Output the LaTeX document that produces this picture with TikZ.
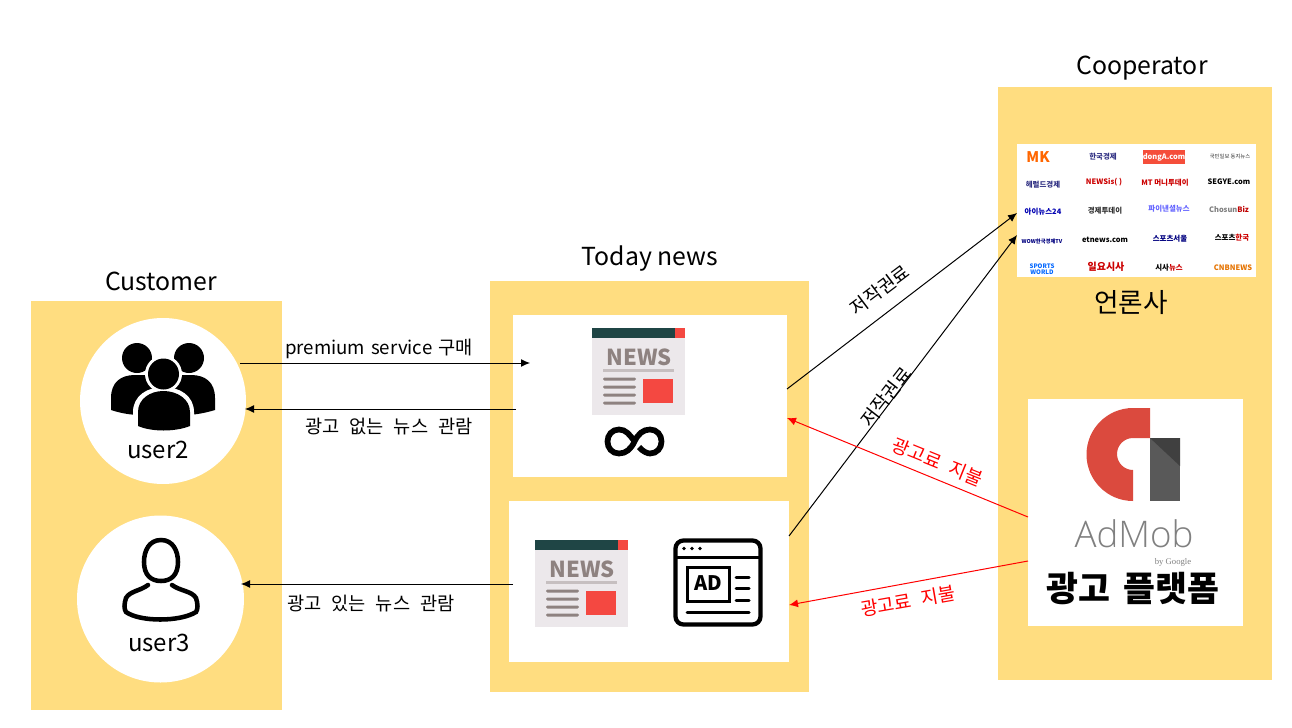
\documentclass[tikz,border=0pt]{standalone}
\usepackage{fontspec}
\setmainfont{Noto Sans CJK KR}
\newfontfamily\latinlight{Open Sans Light}
\newfontfamily\logoserif{Liberation Serif}
\usetikzlibrary{arrows.meta,calc}
\definecolor{panel}{HTML}{FFDD80}
\definecolor{teal}{HTML}{1F4545}
\definecolor{nred}{HTML}{F44841}
\definecolor{paper}{HTML}{ECE8EB}
\definecolor{ink}{HTML}{8E8280}
\definecolor{admobred}{HTML}{DB4A3E}
\newcommand{\widegap}{\spaceskip=7.5pt\relax}
\newcommand{\biggap}{\spaceskip=10pt\relax}
\newcommand{\smallgap}{\spaceskip=4.5pt\relax}
\tikzset{
  x=0.75pt,y=-0.75pt,
  panelbox/.style={fill=panel,draw=none,inner sep=0pt,outer sep=0pt},
  whitebox/.style={fill=white,draw=none,inner sep=0pt,outer sep=0pt},
  usercirc/.style={circle,fill=white,draw=none,inner sep=0pt,outer sep=0pt,minimum size=#1*0.75pt},
  link/.style={draw=black,line width=0.75pt,-{Latex[length=6.75pt,width=6pt]}},
  paylink/.style={draw=red,line width=0.75pt,-{Latex[length=6.75pt,width=6pt]}},
  title/.style={font=\fontsize{18.6}{20}\selectfont,inner sep=0pt},
  lbl/.style={font=\fontsize{14}{16}\selectfont\widegap,inner sep=0pt},
  rlbl/.style={font=\fontsize{14}{16}\selectfont\widegap,inner sep=0pt,text=red},
  logo/.style={inner sep=0pt,font=\fontsize{5.6}{6}\selectfont\bfseries},
  newsicon/.pic={
    \fill[paper] (0,0) rectangle (93,87);
    \fill[teal] (0,0) rectangle (83,10);
    \fill[nred] (83,0) rectangle (93,10);
    \node[inner sep=0pt,text=ink,font=\fontsize{16.5}{18}\selectfont\bfseries] at (47,29) {NEWS};
    \fill[ink!40!paper] (11,41) rectangle (82,44);
    \foreach \yy in {51,59,67,75} \fill[ink,rounded corners=1pt] (11,\yy-1.5) rectangle (44,\yy+1.5);
    \fill[nred] (51,51) rectangle (81,75);
  }
}
\begin{document}
\begin{tikzpicture}
\useasboundingbox (0,0) rectangle (1292,728);
\fill[white] (0,0) rectangle (1292,728);
% panels
\node[panelbox,minimum width=188.25pt,minimum height=306.75pt] (pcust) at (156.5,505.5) {};
\node[panelbox,minimum width=239.25pt,minimum height=308.25pt] (pnews) at (649.5,486.5) {};
\node[panelbox,minimum width=205.5pt,minimum height=444.75pt] (pcoop) at (1135,383.5) {};
\node[title] (tcust) at (161,281) {Customer};
\node[title] (tnews) at (650,259) {Today news};
\node[title] (tcoop) at (1142,68) {Cooperator};
% white boxes
\node[whitebox,minimum width=205.5pt,minimum height=121.5pt] (box1) at (650,396) {};
\node[whitebox,minimum width=210pt,minimum height=120.75pt] (box2) at (649,581.5) {};
\node[whitebox,minimum width=179.25pt,minimum height=99.75pt] (press) at (1136.5,210.5) {};
\node[whitebox,minimum width=161.25pt,minimum height=170.25pt] (admob) at (1135.5,512.5) {};
\node[usercirc=166] (user2) at (163,401) {};
\node[usercirc=167] (user3) at (160.5,599) {};
% user2 icon
\fill[black] (137,358) circle (15);
\fill[black] (189,358) circle (15);
\fill[black] (111,410) -- (111,398) .. controls (111,382) and (121,375) .. (135,375) -- (191,375) .. controls (205,375) and (215,382) .. (215,398) -- (215,410) .. controls (205,413) and (195,415) .. (185,415) -- (141,415) .. controls (130,415) and (120,413) .. (111,410) -- cycle;
\fill[white] (163.5,374) circle (18.5);
\fill[white] (133,432) -- (133,412) .. controls (133,396) and (147,387) .. (163.5,387) .. controls (180,387) and (194,396) .. (194,412) -- (194,432) -- cycle;
\fill[black] (163.5,374) circle (15.5);
\fill[black] (138,426) -- (138,412) .. controls (138,399) and (150,391) .. (163.5,391) .. controls (177,391) and (190,399) .. (190,412) -- (190,426) .. controls (175,432) and (152,432) .. (138,426) -- cycle;
\node[inner sep=0pt,font=\fontsize{18}{20}\selectfont] (l2) at (158,450) {user2};
% user3 icon
\draw[black,line width=3.4pt] (161,540) .. controls (149,540) and (144,551) .. (144,562) .. controls (144,575) and (151,581) .. (161,581) .. controls (171,581) and (178,575) .. (178,562) .. controls (178,551) and (173,540) .. (161,540) -- cycle;
\draw[black,line width=3.4pt,line cap=round] (148,585) .. controls (140,591) and (130,591) .. (126,598) .. controls (124,604) and (124,609) .. (126,612) .. controls (140,622) and (180,622) .. (196,612) .. controls (198,609) and (198,604) .. (196,598) .. controls (192,591) and (180,591) .. (172,585);
\node[inner sep=0pt,font=\fontsize{18}{20}\selectfont] (l3) at (159,643) {user3};
% news icons
\pic at (592,328) {newsicon};
\pic at (535,540) {newsicon};
% infinity
\draw[black,line width=4.3pt] (639,447) .. controls (643,452) and (648,453.5) .. (650,453.5) .. controls (657,453.5) and (661.5,448) .. (661.5,441.5) .. controls (661.5,435) and (657,429.5) .. (650,429.5) .. controls (643,429.5) and (638,434) .. (634.5,441.5) .. controls (631,449) and (626,453.5) .. (619,453.5) .. controls (612,453.5) and (607.5,448) .. (607.5,441.5) .. controls (607.5,435) and (612,429.5) .. (619,429.5) .. controls (626,429.5) and (630,435) .. (634.5,441.5);
% ad icon
\draw[black,line width=3.2pt,rounded corners=6pt] (675.5,540.5) rectangle (760.5,624.5);
\draw[black,line width=2.25pt] (676,557) -- (760,557);
\foreach \xx in {684,692,700} \fill[black] (\xx,548.5) circle (1.8);
\draw[black,line width=2.25pt] (687,567) rectangle (729,601);
\node[inner sep=0pt,font=\fontsize{15}{17}\selectfont\bfseries] (adt) at (708,583) {AD};
\draw[black,line width=2.25pt,line cap=round] (736,577) -- (749,577) (736,588) -- (749,588) (736,600) -- (749,600) (687,612) -- (749,612);
% press logos
\node[logo,text=orange!80!red,font=\fontsize{11}{12}\selectfont\bfseries] (m1) at (1038,157) {MK};
\node[logo,text=blue!40!black!80] (m2) at (1103,157) {한국경제};
\node[logo,fill=nred!90!orange,text=white,minimum width=30pt,minimum height=10.5pt] (m3) at (1164,157) {dongA.com};
\node[logo,text=black!80,font=\fontsize{4}{5}\selectfont] (m4) at (1230,157) {국민일보 동지뉴스};
\node[logo,text=blue!40!black!80] (m5) at (1043,185) {헤럴드경제};
\node[logo,text=red!80!black] (m6) at (1104,182) {NEWSis( )};
\node[logo,text=red!80!black] (m7) at (1165,183) {MT 머니투데이};
\node[logo,text=black] (m8) at (1229,182) {SEGYE.com};
\node[logo,text=blue!70!black] (m9) at (1043,212) {아이뉴스24};
\node[logo,text=black!80] (m10) at (1105,211) {경제투데이};
\node[logo,text=blue!60] (m11) at (1169,209) {파이낸셜뉴스};
\node[logo,text=gray] (m12) at (1229,209) {Chosun\textcolor{red!75!black}{Biz}};
\node[logo,text=blue!50!black,font=\fontsize{4}{5}\selectfont\bfseries] (m13) at (1042,241) {WOW한국경제TV};
\node[logo,text=black] (m14) at (1105,240) {etnews.com};
\node[logo,text=blue!50!black] (m15) at (1170,239) {스포츠서울};
\node[logo,text=black] (m16) at (1232,238) {스포츠\textcolor{red!80!black}{한국}};
\node[logo,text=blue!60!cyan,align=center,font=\fontsize{4.6}{4.6}\selectfont\bfseries] (m17) at (1042,269) {SPORTS\\WORLD};
\node[logo,text=red!80!black,font=\fontsize{7.5}{8}\selectfont\bfseries] (m18) at (1106,267) {일요시사};
\node[logo,text=black] (m19) at (1169,268) {시사\textcolor{red!80!black}{뉴스}};
\node[logo,text=orange!90!black] (m20) at (1233,268) {CNBNEWS};
\node[inner sep=0pt,font=\fontsize{20}{22}\selectfont] (presst) at (1131,303) {언론사};
% admob logo
\fill[admobred] (1150,408) -- (1133,408) arc[start angle=270,end angle=90,radius=46.5] -- (1133,470) arc[start angle=90,end angle=270,radius=16] -- (1150,438) -- cycle;
\fill[black!65] (1150,438) rectangle (1180,501);
\fill[black!75] (1150,438) -- (1180,438) -- (1180,466) -- cycle;
\node[inner sep=0pt,text height=20pt,text depth=0pt,text=black!50,font=\latinlight\fontsize{27.5}{28}\selectfont] (admobt) at (1134,534) {AdMob};
\node[inner sep=0pt,text=black!50,font=\logoserif\fontsize{6.5}{7}\selectfont] (bygoogle) at (1173,562) {by Google};
\node[inner sep=0pt,font=\fontsize{26}{28}\selectfont\bfseries\biggap] (adt2) at (1133,589) {광고 플랫폼};
% connectors
\draw[link] ($(user2.east |- 0,363)+(-6,0)$) -- ($(box1.west |- 0,363)+(17,0)$);
\draw[link] ($(box1.west |- 0,409)+(3,0)$) -- ($(user2.east |- 0,409)+(-1,0)$);
\draw[link] ($(box2.west |- 0,584)+(4,0)$) -- ($(user3.east |- 0,584)+(-3,0)$);
\draw[link] (box1.east |- 0,389) -- (press.west |- 0,213);
\draw[link] (box2.east |- 0,536) -- (press.west |- 0,235);
\draw[paylink] (admob.west |- 0,517) -- (box1.east |- 0,418);
\draw[paylink] (admob.west |- 0,561) -- (box2.east |- 0,605);
% labels
\node[lbl,font=\fontsize{14}{16}\selectfont\smallgap] (c1) at (379,349) {premium service 구매};
\node[lbl] (c2) at (389,427) {광고 없는 뉴스 관람};
\node[lbl] (c3) at (371,604) {광고 있는 뉴스 관람};
\node[lbl,rotate=37] (c4) at (880,290) {저작권료};
\node[lbl,rotate=52] (c5) at (886,397) {저작권료};
\node[rlbl,rotate=-22] (c6) at (938,462) {광고료 지불};
\node[rlbl,rotate=10] (c7) at (908,601) {광고료 지불};
\end{tikzpicture}
\end{document}
